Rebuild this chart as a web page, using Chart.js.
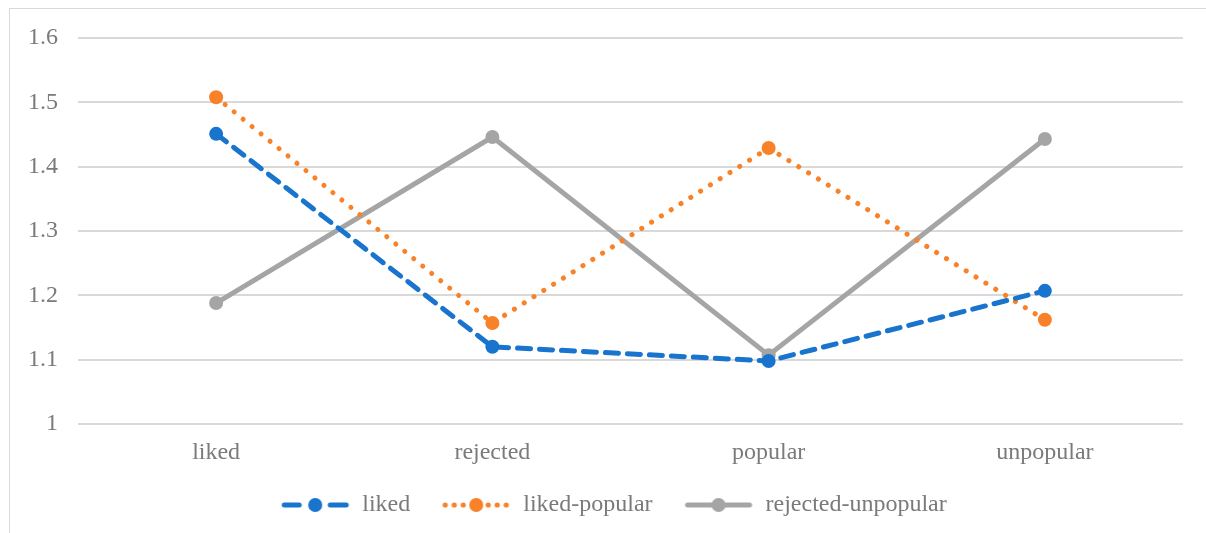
<!DOCTYPE html>
<html><head><meta charset="utf-8">
<script src="https://cdn.jsdelivr.net/npm/chart.js@4"></script>
<style>
html,body{margin:0;padding:0;background:#fff;overflow:hidden;}
#frame{position:absolute;left:9px;top:8px;width:1220px;height:560px;border:1px solid #d9d9d9;box-sizing:border-box;}
#wrap{position:absolute;left:0;top:0;width:1206px;height:533px;}
</style></head>
<body>
<div id="frame"></div>
<div id="wrap"><canvas id="c" width="1206" height="533"></canvas></div>
<script>
const categories = ['liked', 'rejected', 'popular', 'unpopular'];
const seriesNames = ['liked', 'liked-popular', 'rejected-unpopular'];
const likedValues = [1.451, 1.120, 1.098, 1.207];
const likedPopularValues = [1.508, 1.157, 1.429, 1.162];
const rejectedUnpopularValues = [1.188, 1.446, 1.107, 1.443];
const yTicks = [1, 1.1, 1.2, 1.3, 1.4, 1.5, 1.6];

const BLUE = '#1874CD', ORANGE = '#F98128', GRAY = '#A5A5A5';
const TEXT = '#7a7a7a';
const FONT = "'Liberation Serif', 'Times New Roman', serif";
const LEAD = 10; // transparent lead-in before each legend swatch

function swatch(color, kind) {
  const c = document.createElement('canvas');
  c.width = 70 + LEAD; c.height = 20;
  const g = c.getContext('2d');
  g.translate(LEAD, 0);
  g.strokeStyle = color; g.fillStyle = color; g.lineWidth = 5; g.lineCap = 'round';
  if (kind === 'dash') {
    g.beginPath(); g.moveTo(4, 10); g.lineTo(19, 10); g.moveTo(50, 10); g.lineTo(66, 10); g.stroke();
  } else if (kind === 'dot') {
    [4, 13, 22, 47, 56, 65].forEach(x => { g.beginPath(); g.arc(x, 10, 2.6, 0, Math.PI * 2); g.fill(); });
  } else {
    g.beginPath(); g.moveTo(4, 10); g.lineTo(66, 10); g.stroke();
  }
  g.beginPath(); g.arc(35, 10, 7, 0, Math.PI * 2); g.fill();
  return c;
}
const swatches = [swatch(BLUE, 'dash'), swatch(ORANGE, 'dot'), swatch(GRAY, 'solid')];

new Chart(document.getElementById('c'), {
  type: 'line',
  data: {
    labels: categories,
    datasets: [
      { label: seriesNames[0], data: likedValues, borderColor: BLUE, backgroundColor: BLUE,
        borderWidth: 5, borderDash: [13, 9], borderCapStyle: 'round', pointRadius: 7, pointHoverRadius: 7,
        pointBackgroundColor: BLUE, pointBorderColor: BLUE, pointBorderWidth: 0 },
      { label: seriesNames[1], data: likedPopularValues, borderColor: ORANGE, backgroundColor: ORANGE,
        borderWidth: 5, borderDash: [0.1, 11.5], borderCapStyle: 'round', pointRadius: 7, pointHoverRadius: 7,
        pointBackgroundColor: ORANGE, pointBorderColor: ORANGE, pointBorderWidth: 0 },
      { label: seriesNames[2], data: rejectedUnpopularValues, borderColor: GRAY, backgroundColor: GRAY,
        borderWidth: 5, borderCapStyle: 'round', pointRadius: 7, pointHoverRadius: 7,
        pointBackgroundColor: GRAY, pointBorderColor: GRAY, pointBorderWidth: 0 }
    ]
  },
  options: {
    responsive: false,
    animation: false,
    layout: { padding: { left: 11, right: 0, top: 38, bottom: 6 } },
    scales: {
      x: {
        offset: true,
        afterFit: s => { s.height = 48; },
        grid: { display: false, drawTicks: false },
        border: { display: false },
        ticks: { color: TEXT, font: { family: FONT, size: 24 }, padding: 14 }
      },
      y: {
        min: 1, max: 1.6,
        afterFit: s => { s.width = 67; },
        afterBuildTicks: s => { s.ticks = yTicks.map(v => ({ value: v })); },
        grid: { color: '#d9d9d9', lineWidth: 2, drawTicks: false },
        border: { display: false },
        ticks: { color: TEXT, font: { family: FONT, size: 24 }, padding: 20,
          callback: v => String(Math.round(v * 10) / 10) }
      },
      yRight: {
        position: 'right',
        display: true,
        afterFit: s => { s.width = 23; },
        grid: { display: false, drawTicks: false },
        border: { display: false },
        ticks: { display: false }
      }
    },
    plugins: {
      legend: {
        position: 'bottom',
        labels: {
          color: TEXT, font: { family: FONT, size: 24 },
          usePointStyle: true, pointStyleWidth: 70 + LEAD, padding: 21,
          generateLabels: chart => chart.data.datasets.map((d, i) => ({
            text: d.label, pointStyle: swatches[i], fontColor: TEXT,
            strokeStyle: d.borderColor, fillStyle: d.borderColor, lineWidth: 0, datasetIndex: i, hidden: false
          }))
        }
      },
      tooltip: { enabled: false }
    }
  }
});
</script>
</body></html>
